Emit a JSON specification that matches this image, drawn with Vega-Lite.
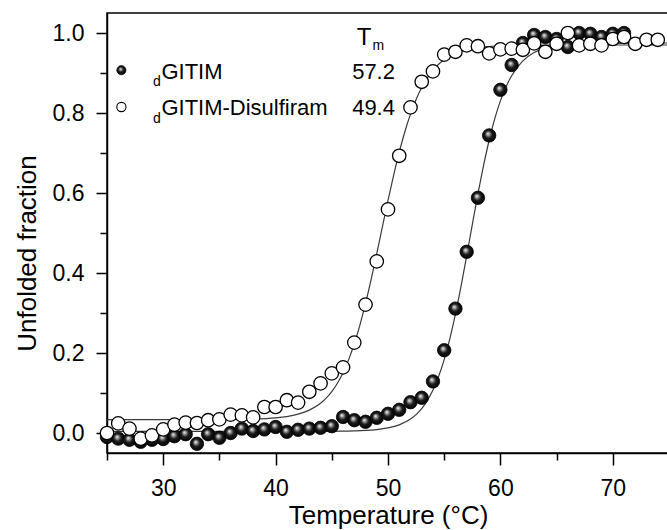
{
  "$schema": "https://vega.github.io/schema/vega-lite/v6.json",
  "width": 562,
  "height": 440,
  "autosize": "none",
  "padding": {"left": 107, "top": 13, "right": 0, "bottom": 77},
  "background": "white",
  "config": {
    "font": "Liberation Sans",
    "view": {"stroke": "black", "strokeWidth": 1.5},
    "axis": {
      "domainColor": "black", "domainWidth": 1.5,
      "tickColor": "black", "tickWidth": 1.5,
      "labelColor": "black", "labelFont": "Liberation Sans", "labelFontSize": 23,
      "titleColor": "black", "titleFont": "Liberation Sans", "titleFontWeight": "normal",
      "grid": false, "labelOverlap": false, "labelFlush": false
    },
    "text": {"font": "Liberation Sans", "color": "black"}
  },
  "datasets": {
    "points": [
      {"series": "GITIM", "T": 25, "value": -0.01}, {"series": "GITIM", "T": 26, "value": -0.014}, {"series": "GITIM", "T": 27, "value": -0.017}, {"series": "GITIM", "T": 28, "value": -0.022}, {"series": "GITIM", "T": 29, "value": -0.017}, {"series": "GITIM", "T": 30, "value": -0.015}, {"series": "GITIM", "T": 31, "value": -0.008}, {"series": "GITIM", "T": 32, "value": -0.003}, {"series": "GITIM", "T": 33, "value": -0.027}, {"series": "GITIM", "T": 34, "value": -0.003}, {"series": "GITIM", "T": 35, "value": -0.012}, {"series": "GITIM", "T": 36, "value": 0.0}, {"series": "GITIM", "T": 37, "value": 0.011}, {"series": "GITIM", "T": 38, "value": 0.005}, {"series": "GITIM", "T": 39, "value": 0.009}, {"series": "GITIM", "T": 40, "value": 0.015}, {"series": "GITIM", "T": 41, "value": 0.003}, {"series": "GITIM", "T": 42, "value": 0.008}, {"series": "GITIM", "T": 43, "value": 0.011}, {"series": "GITIM", "T": 44, "value": 0.013}, {"series": "GITIM", "T": 45, "value": 0.017}, {"series": "GITIM", "T": 46, "value": 0.04}, {"series": "GITIM", "T": 47, "value": 0.032}, {"series": "GITIM", "T": 48, "value": 0.028}, {"series": "GITIM", "T": 49, "value": 0.038}, {"series": "GITIM", "T": 50, "value": 0.048}, {"series": "GITIM", "T": 51, "value": 0.058}, {"series": "GITIM", "T": 52, "value": 0.077}, {"series": "GITIM", "T": 53, "value": 0.088}, {"series": "GITIM", "T": 54, "value": 0.129}, {"series": "GITIM", "T": 55, "value": 0.207}, {"series": "GITIM", "T": 56, "value": 0.311}, {"series": "GITIM", "T": 57, "value": 0.453}, {"series": "GITIM", "T": 58, "value": 0.588}, {"series": "GITIM", "T": 59, "value": 0.744}, {"series": "GITIM", "T": 60, "value": 0.858}, {"series": "GITIM", "T": 61, "value": 0.92}, {"series": "GITIM", "T": 62, "value": 0.975}, {"series": "GITIM", "T": 63, "value": 0.995}, {"series": "GITIM", "T": 64, "value": 0.99}, {"series": "GITIM", "T": 65, "value": 0.985}, {"series": "GITIM", "T": 66, "value": 0.965}, {"series": "GITIM", "T": 67, "value": 1.0}, {"series": "GITIM", "T": 68, "value": 0.998}, {"series": "GITIM", "T": 69, "value": 0.99}, {"series": "GITIM", "T": 70, "value": 0.998}, {"series": "GITIM", "T": 71, "value": 1.0},
      {"series": "GITIM-Disulfiram", "T": 25, "value": 0.0}, {"series": "GITIM-Disulfiram", "T": 26, "value": 0.024}, {"series": "GITIM-Disulfiram", "T": 27, "value": 0.011}, {"series": "GITIM-Disulfiram", "T": 28, "value": -0.014}, {"series": "GITIM-Disulfiram", "T": 29, "value": -0.006}, {"series": "GITIM-Disulfiram", "T": 30, "value": 0.009}, {"series": "GITIM-Disulfiram", "T": 31, "value": 0.021}, {"series": "GITIM-Disulfiram", "T": 32, "value": 0.026}, {"series": "GITIM-Disulfiram", "T": 33, "value": 0.025}, {"series": "GITIM-Disulfiram", "T": 34, "value": 0.032}, {"series": "GITIM-Disulfiram", "T": 35, "value": 0.034}, {"series": "GITIM-Disulfiram", "T": 36, "value": 0.046}, {"series": "GITIM-Disulfiram", "T": 37, "value": 0.044}, {"series": "GITIM-Disulfiram", "T": 38, "value": 0.039}, {"series": "GITIM-Disulfiram", "T": 39, "value": 0.065}, {"series": "GITIM-Disulfiram", "T": 40, "value": 0.065}, {"series": "GITIM-Disulfiram", "T": 41, "value": 0.082}, {"series": "GITIM-Disulfiram", "T": 42, "value": 0.076}, {"series": "GITIM-Disulfiram", "T": 43, "value": 0.103}, {"series": "GITIM-Disulfiram", "T": 44, "value": 0.124}, {"series": "GITIM-Disulfiram", "T": 45, "value": 0.149}, {"series": "GITIM-Disulfiram", "T": 46, "value": 0.164}, {"series": "GITIM-Disulfiram", "T": 47, "value": 0.226}, {"series": "GITIM-Disulfiram", "T": 48, "value": 0.321}, {"series": "GITIM-Disulfiram", "T": 49, "value": 0.429}, {"series": "GITIM-Disulfiram", "T": 50, "value": 0.559}, {"series": "GITIM-Disulfiram", "T": 51, "value": 0.693}, {"series": "GITIM-Disulfiram", "T": 52, "value": 0.814}, {"series": "GITIM-Disulfiram", "T": 53, "value": 0.878}, {"series": "GITIM-Disulfiram", "T": 54, "value": 0.904}, {"series": "GITIM-Disulfiram", "T": 55, "value": 0.946}, {"series": "GITIM-Disulfiram", "T": 56, "value": 0.953}, {"series": "GITIM-Disulfiram", "T": 57, "value": 0.969}, {"series": "GITIM-Disulfiram", "T": 58, "value": 0.967}, {"series": "GITIM-Disulfiram", "T": 59, "value": 0.949}, {"series": "GITIM-Disulfiram", "T": 60, "value": 0.959}, {"series": "GITIM-Disulfiram", "T": 61, "value": 0.961}, {"series": "GITIM-Disulfiram", "T": 62, "value": 0.958}, {"series": "GITIM-Disulfiram", "T": 63, "value": 0.974}, {"series": "GITIM-Disulfiram", "T": 64, "value": 0.953}, {"series": "GITIM-Disulfiram", "T": 65, "value": 0.973}, {"series": "GITIM-Disulfiram", "T": 66, "value": 1.0}, {"series": "GITIM-Disulfiram", "T": 67, "value": 0.969}, {"series": "GITIM-Disulfiram", "T": 68, "value": 0.973}, {"series": "GITIM-Disulfiram", "T": 69, "value": 0.969}, {"series": "GITIM-Disulfiram", "T": 70, "value": 0.985}, {"series": "GITIM-Disulfiram", "T": 71, "value": 0.99}, {"series": "GITIM-Disulfiram", "T": 72, "value": 0.973}, {"series": "GITIM-Disulfiram", "T": 73, "value": 0.983}, {"series": "GITIM-Disulfiram", "T": 74, "value": 0.983}
    ],
    "fits": [
      {"series": "GITIM", "T": 25, "value": 0.004}, {"series": "GITIM", "T": 35, "value": 0.004}, {"series": "GITIM", "T": 45, "value": 0.0043}, {"series": "GITIM", "T": 46, "value": 0.0047}, {"series": "GITIM", "T": 47, "value": 0.0053}, {"series": "GITIM", "T": 48, "value": 0.0064}, {"series": "GITIM", "T": 49, "value": 0.0086}, {"series": "GITIM", "T": 50, "value": 0.0127}, {"series": "GITIM", "T": 51, "value": 0.0204}, {"series": "GITIM", "T": 52, "value": 0.0348}, {"series": "GITIM", "T": 52.5, "value": 0.046}, {"series": "GITIM", "T": 53, "value": 0.061}, {"series": "GITIM", "T": 53.5, "value": 0.081}, {"series": "GITIM", "T": 54, "value": 0.1072}, {"series": "GITIM", "T": 54.5, "value": 0.141}, {"series": "GITIM", "T": 55, "value": 0.1835}, {"series": "GITIM", "T": 55.5, "value": 0.2355}, {"series": "GITIM", "T": 56, "value": 0.2971}, {"series": "GITIM", "T": 56.5, "value": 0.367}, {"series": "GITIM", "T": 57, "value": 0.4427}, {"series": "GITIM", "T": 57.5, "value": 0.5208}, {"series": "GITIM", "T": 58, "value": 0.5973}, {"series": "GITIM", "T": 58.5, "value": 0.6686}, {"series": "GITIM", "T": 59, "value": 0.7319}, {"series": "GITIM", "T": 59.5, "value": 0.7859}, {"series": "GITIM", "T": 60, "value": 0.8302}, {"series": "GITIM", "T": 60.5, "value": 0.8657}, {"series": "GITIM", "T": 61, "value": 0.8933}, {"series": "GITIM", "T": 62, "value": 0.9303}, {"series": "GITIM", "T": 63, "value": 0.951}, {"series": "GITIM", "T": 64, "value": 0.9623}, {"series": "GITIM", "T": 65, "value": 0.9683}, {"series": "GITIM", "T": 66, "value": 0.9715}, {"series": "GITIM", "T": 68, "value": 0.974}, {"series": "GITIM", "T": 75, "value": 0.975},
      {"series": "GITIM-Disulfiram", "T": 25, "value": 0.0335}, {"series": "GITIM-Disulfiram", "T": 30, "value": 0.0335}, {"series": "GITIM-Disulfiram", "T": 35, "value": 0.0337}, {"series": "GITIM-Disulfiram", "T": 38, "value": 0.0349}, {"series": "GITIM-Disulfiram", "T": 40, "value": 0.0378}, {"series": "GITIM-Disulfiram", "T": 41, "value": 0.0411}, {"series": "GITIM-Disulfiram", "T": 42, "value": 0.047}, {"series": "GITIM-Disulfiram", "T": 43, "value": 0.0571}, {"series": "GITIM-Disulfiram", "T": 44, "value": 0.0744}, {"series": "GITIM-Disulfiram", "T": 44.5, "value": 0.0872}, {"series": "GITIM-Disulfiram", "T": 45, "value": 0.1036}, {"series": "GITIM-Disulfiram", "T": 45.5, "value": 0.1245}, {"series": "GITIM-Disulfiram", "T": 46, "value": 0.1509}, {"series": "GITIM-Disulfiram", "T": 46.5, "value": 0.1835}, {"series": "GITIM-Disulfiram", "T": 47, "value": 0.2231}, {"series": "GITIM-Disulfiram", "T": 47.5, "value": 0.2699}, {"series": "GITIM-Disulfiram", "T": 48, "value": 0.3238}, {"series": "GITIM-Disulfiram", "T": 48.5, "value": 0.384}, {"series": "GITIM-Disulfiram", "T": 49, "value": 0.4484}, {"series": "GITIM-Disulfiram", "T": 49.5, "value": 0.5151}, {"series": "GITIM-Disulfiram", "T": 50, "value": 0.5813}, {"series": "GITIM-Disulfiram", "T": 50.5, "value": 0.6442}, {"series": "GITIM-Disulfiram", "T": 51, "value": 0.702}, {"series": "GITIM-Disulfiram", "T": 51.5, "value": 0.7532}, {"series": "GITIM-Disulfiram", "T": 52, "value": 0.7971}, {"series": "GITIM-Disulfiram", "T": 52.5, "value": 0.8339}, {"series": "GITIM-Disulfiram", "T": 53, "value": 0.8639}, {"series": "GITIM-Disulfiram", "T": 53.5, "value": 0.888}, {"series": "GITIM-Disulfiram", "T": 54, "value": 0.9069}, {"series": "GITIM-Disulfiram", "T": 54.5, "value": 0.9218}, {"series": "GITIM-Disulfiram", "T": 55, "value": 0.9333}, {"series": "GITIM-Disulfiram", "T": 55.5, "value": 0.9422}, {"series": "GITIM-Disulfiram", "T": 56, "value": 0.9489}, {"series": "GITIM-Disulfiram", "T": 57, "value": 0.958}, {"series": "GITIM-Disulfiram", "T": 58, "value": 0.9632}, {"series": "GITIM-Disulfiram", "T": 60, "value": 0.9678}, {"series": "GITIM-Disulfiram", "T": 62, "value": 0.9693}, {"series": "GITIM-Disulfiram", "T": 65, "value": 0.9699}, {"series": "GITIM-Disulfiram", "T": 75, "value": 0.97}
    ]
  },
  "layer": [
    {
      "data": {"name": "fits"},
      "mark": {"type": "line", "color": "#3a3a3a", "strokeWidth": 1.2, "interpolate": "monotone"},
      "encoding": {
        "x": {
          "field": "T", "type": "quantitative",
          "scale": {"domain": [25, 75], "nice": false, "zero": false},
          "axis": {
            "title": "Temperature (°C)",
            "values": [25, 30, 35, 40, 45, 50, 55, 60, 65, 70, 75],
            "format": "d",
            "labelExpr": "datum.value % 10 === 0 ? datum.label : ''",
            "tickSize": {"condition": {"test": "datum.value % 10 === 0", "value": 12}, "value": 7},
            "labelPadding": 12,
            "titleFontSize": 26,
            "titleBaseline": "alphabetic",
            "titleY": 70
          }
        },
        "y": {
          "field": "value", "type": "quantitative",
          "scale": {"domain": [-0.05, 1.05], "nice": false, "zero": false},
          "axis": {
            "title": "Unfolded fraction",
            "values": [0, 0.1, 0.2, 0.3, 0.4, 0.5, 0.6, 0.7, 0.8, 0.9, 1.0],
            "format": ".1f",
            "labelExpr": "round(datum.value * 10) % 2 === 0 ? datum.label : ''",
            "tickSize": {"condition": {"test": "round(datum.value * 10) % 2 === 0", "value": 11}, "value": 7},
            "labelPadding": 12,
            "titleFontSize": 26,
            "titleBaseline": "alphabetic",
            "titleX": -72,
            "titleY": 240
          }
        },
        "detail": {"field": "series"}
      }
    },
    {
      "data": {"name": "points"},
      "transform": [{"filter": "datum.series === 'GITIM'"}],
      "mark": {
        "type": "point", "shape": "circle", "size": 180, "filled": true, "opacity": 1,
        "stroke": "#000000", "strokeWidth": 0.8,
        "fill": {"gradient": "radial", "x1": 0.4, "y1": 0.36, "r1": 0, "x2": 0.5, "y2": 0.5, "r2": 0.55,
          "stops": [{"offset": 0, "color": "#ffffff"}, {"offset": 0.2, "color": "#a0a0a0"}, {"offset": 0.5, "color": "#1c1c1c"}, {"offset": 1, "color": "#000000"}]}
      },
      "encoding": {
        "x": {"field": "T", "type": "quantitative"},
        "y": {"field": "value", "type": "quantitative"}
      }
    },
    {
      "data": {"name": "points"},
      "transform": [{"filter": "datum.series === 'GITIM-Disulfiram'"}],
      "mark": {"type": "point", "shape": "circle", "size": 180, "filled": true, "fill": "white", "stroke": "black", "strokeWidth": 1.3, "opacity": 1},
      "encoding": {
        "x": {"field": "T", "type": "quantitative"},
        "y": {"field": "value", "type": "quantitative"}
      }
    },
    {
      "data": {"values": [{}]},
      "mark": {
        "type": "point", "shape": "circle", "size": 85, "filled": true, "opacity": 1, "stroke": "#000", "strokeWidth": 0.6,
        "fill": {"gradient": "radial", "x1": 0.4, "y1": 0.36, "r1": 0, "x2": 0.5, "y2": 0.5, "r2": 0.55,
          "stops": [{"offset": 0, "color": "#ffffff"}, {"offset": 0.2, "color": "#a0a0a0"}, {"offset": 0.5, "color": "#1c1c1c"}, {"offset": 1, "color": "#000000"}]}
      },
      "encoding": {"x": {"datum": 26.28}, "y": {"datum": 0.907}}
    },
    {
      "data": {"values": [{}]},
      "mark": {"type": "point", "shape": "circle", "size": 85, "filled": true, "fill": "white", "stroke": "black", "strokeWidth": 1.1, "opacity": 1},
      "encoding": {"x": {"datum": 26.28}, "y": {"datum": 0.815}}
    },
    {
      "data": {"values": [{}]},
      "mark": {"type": "text", "text": "GITIM", "align": "left", "baseline": "alphabetic", "fontSize": 22},
      "encoding": {"x": {"datum": 29.84}, "y": {"datum": 0.886}}
    },
    {
      "data": {"values": [{}]},
      "mark": {"type": "text", "text": "GITIM-Disulfiram", "align": "left", "baseline": "alphabetic", "fontSize": 22},
      "encoding": {"x": {"datum": 29.84}, "y": {"datum": 0.794}}
    },
    {
      "data": {"values": [{}]},
      "mark": {"type": "text", "text": "d", "align": "left", "baseline": "alphabetic", "fontSize": 14},
      "encoding": {"x": {"datum": 29.1}, "y": {"datum": 0.867}}
    },
    {
      "data": {"values": [{}]},
      "mark": {"type": "text", "text": "d", "align": "left", "baseline": "alphabetic", "fontSize": 14},
      "encoding": {"x": {"datum": 29.1}, "y": {"datum": 0.775}}
    },
    {
      "data": {"values": [{}]},
      "mark": {"type": "text", "text": "57.2", "align": "right", "baseline": "alphabetic", "fontSize": 22},
      "encoding": {"x": {"datum": 50.62}, "y": {"datum": 0.886}}
    },
    {
      "data": {"values": [{}]},
      "mark": {"type": "text", "text": "49.4", "align": "right", "baseline": "alphabetic", "fontSize": 22},
      "encoding": {"x": {"datum": 50.62}, "y": {"datum": 0.794}}
    },
    {
      "data": {"values": [{}]},
      "mark": {"type": "text", "text": "T", "align": "left", "baseline": "alphabetic", "fontSize": 24},
      "encoding": {"x": {"datum": 47.21}, "y": {"datum": 0.969}}
    },
    {
      "data": {"values": [{}]},
      "mark": {"type": "text", "text": "m", "align": "left", "baseline": "alphabetic", "fontSize": 14},
      "encoding": {"x": {"datum": 48.62}, "y": {"datum": 0.957}}
    }
  ]
}
